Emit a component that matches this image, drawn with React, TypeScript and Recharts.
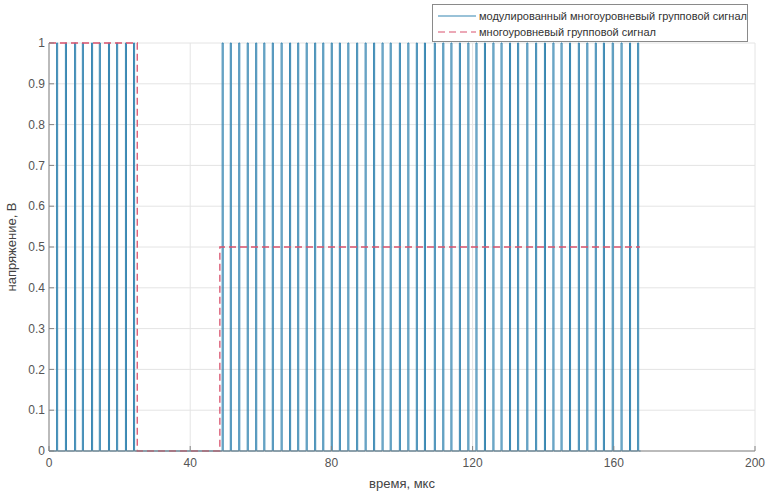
import { CartesianGrid, Line, LineChart, XAxis, YAxis } from 'recharts'

// pulse centres (мкс)
const PULSES_FIRST = [2.3, 4.8, 7.4, 9.6, 12.2, 14.4, 17.0, 19.3, 21.8, 24.1]
const PULSES_SECOND = [
  49.2, 51.5, 53.9, 56.3, 58.7, 61.0, 63.4, 65.9, 68.3, 70.6, 73.0, 75.4, 77.7, 80.1, 82.4, 84.8,
  87.3, 89.7, 92.1, 94.5, 96.8, 99.4, 101.8, 104.2, 106.5, 109.3, 111.7, 114.0, 116.4, 118.8,
  121.1, 123.5, 125.9, 128.2, 130.6, 132.9, 135.5, 138.0, 140.5, 142.9, 145.2, 147.6, 150.1,
  152.5, 154.9, 157.2, 159.7, 162.2, 164.6, 166.9,
]
const CARRIER_END = 167.6

// envelope (group signal) breakpoints
const ENVELOPE_T = [0, 25, 25, 48.4, 48.4, 167.4]
const ENVELOPE_V = [1, 1, 0, 0, 0.5, 0.5]

const X_TICKS = [0, 40, 80, 120, 160, 200]
const Y_TICKS = [0, 0.1, 0.2, 0.3, 0.4, 0.5, 0.6, 0.7, 0.8, 0.9, 1]

const SERIES_NAMES = ['модулированный многоуровневый групповой сигнал', 'многоуровневый групповой сигнал']

const BLUE = '#3585b1'
const RED = '#d9536e'
const FRAME = '#858585'
const FONT = '"Liberation Sans", Arial, sans-serif'
const HALF_WIDTH = 0.15

const modulated: { t: number; v: number }[] = [{ t: 0, v: 0 }]
for (const p of [...PULSES_FIRST, ...PULSES_SECOND]) {
  modulated.push({ t: p - HALF_WIDTH, v: 0 }, { t: p - HALF_WIDTH, v: 1 }, { t: p + HALF_WIDTH, v: 1 }, { t: p + HALF_WIDTH, v: 0 })
}
modulated.push({ t: CARRIER_END, v: 0 })

const envelope = ENVELOPE_T.map((t, i) => ({ t, v: ENVELOPE_V[i] }))

const tickStyle = { fontSize: 12, fill: '#555', fontFamily: FONT }

function LegendBox() {
  return (
    <div
      style={{
        position: 'absolute',
        left: 432,
        top: 4,
        width: 316,
        height: 38,
        border: '1px solid #8a8a8a',
        background: '#fff',
        padding: '3px 0 0 4px',
        fontFamily: FONT,
        fontSize: 11,
        color: '#333',
        lineHeight: '16px',
        whiteSpace: 'nowrap',
        boxSizing: 'border-box',
      }}
    >
      <div style={{ display: 'flex', alignItems: 'center' }}>
        <svg width={40} height={10} style={{ marginRight: 2, flexShrink: 0 }}>
          <line x1={1} y1={5} x2={39} y2={5} stroke={BLUE} strokeWidth={1.2} />
        </svg>
        <span>{SERIES_NAMES[0]}</span>
      </div>
      <div style={{ display: 'flex', alignItems: 'center' }}>
        <svg width={40} height={10} style={{ marginRight: 2, flexShrink: 0 }}>
          <line x1={1} y1={5} x2={39} y2={5} stroke={RED} strokeWidth={1.2} strokeDasharray="7 4" />
        </svg>
        <span>{SERIES_NAMES[1]}</span>
      </div>
    </div>
  )
}

export default function App() {
  return (
    <div style={{ position: 'absolute', left: 0, top: 0, width: 770, height: 497, background: '#fff' }}>
      <LineChart width={770} height={497} margin={{ top: 43, right: 15, bottom: 0, left: 0 }}>
        <CartesianGrid stroke="#e4e4e4" />
        <XAxis
          dataKey="t"
          type="number"
          domain={[0, 200]}
          ticks={X_TICKS}
          allowDataOverflow
          height={46}
          stroke={FRAME}
          tickSize={-5}
          tickMargin={12}
          tick={tickStyle}
          label={{ value: 'время, мкс', position: 'insideBottom', offset: 9, style: { fontSize: 13, fill: '#444', fontFamily: FONT } }}
        />
        <XAxis
          xAxisId="top"
          orientation="top"
          dataKey="t"
          type="number"
          domain={[0, 200]}
          ticks={X_TICKS}
          height={0}
          stroke={FRAME}
          tickSize={-5}
          tick={false}
        />
        <YAxis
          type="number"
          domain={[0, 1]}
          ticks={Y_TICKS}
          width={49}
          stroke={FRAME}
          tickSize={-5}
          tickMargin={9}
          tick={tickStyle}
          interval={0}
          label={{
            content: () => (
              <text
                x={16}
                y={247}
                transform="rotate(-90 16 247)"
                textAnchor="middle"
                style={{ fontSize: 13, fill: '#444', fontFamily: FONT }}
              >
                напряжение, В
              </text>
            ),
          }}
        />
        <YAxis yAxisId="right" orientation="right" type="number" domain={[0, 1]} ticks={Y_TICKS} width={0} stroke={FRAME} tickSize={-5} tick={false} />
        <Line
          data={modulated}
          dataKey="v"
          name={SERIES_NAMES[0]}
          type="linear"
          stroke={BLUE}
          strokeWidth={1}
          dot={false}
          activeDot={false}
          isAnimationActive={false}
        />
        <Line
          data={envelope}
          dataKey="v"
          name={SERIES_NAMES[1]}
          type="linear"
          stroke={RED}
          strokeWidth={1.3}
          strokeDasharray="7 4"
          dot={false}
          activeDot={false}
          isAnimationActive={false}
        />
      </LineChart>
      <LegendBox />
    </div>
  )
}
